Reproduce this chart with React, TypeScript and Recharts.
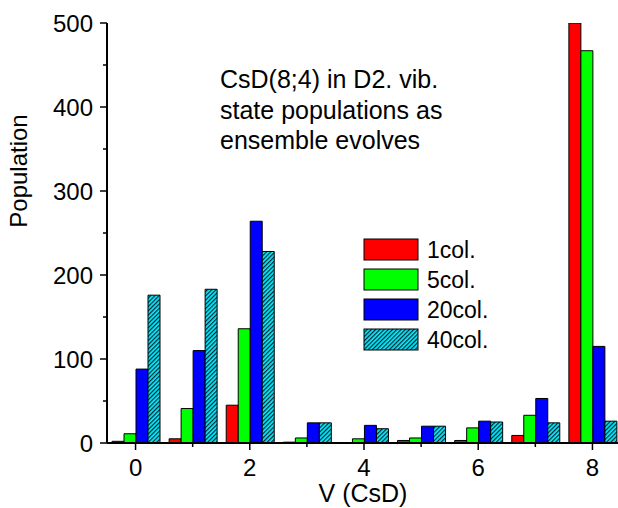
import React from 'react';
import { BarChart, Bar, XAxis, YAxis } from 'recharts';

const categories = [0, 1, 2, 3, 4, 5, 6, 7, 8];
const col1 = [2, 5, 45, 1, 0, 3, 3, 9, 500];
const col5 = [11, 41, 136, 6, 5, 6, 18, 33, 467];
const col20 = [88, 110, 264, 24, 21, 20, 26, 53, 115];
const col40 = [176, 183, 228, 24, 17, 20, 25, 24, 26];
const yTicks = [0, 50, 100, 150, 200, 250, 300, 350, 400, 450, 500];
const xLabelled = [0, 2, 4, 6, 8];
const seriesNames = ['1col.', '5col.', '20col.', '40col.'];
const seriesKeys = ['c1', 'c5', 'c20', 'c40'];
const seriesFills = ['#ff0000', '#00ff00', '#0000ff', 'url(#hatch)'];
const annotation = ['CsD(8;4) in D2. vib.', 'state populations as', 'ensemble evolves'];

const data = categories.map((v, i) => ({
  v,
  c1: col1[i],
  c5: col5[i],
  c20: col20[i],
  c40: col40[i],
}));

const FONT = '"Liberation Sans", Arial, Helvetica, sans-serif';

const YTick = (props: any) => {
  const { x, y, payload } = props;
  const major = payload.value % 100 === 0;
  return (
    <g>
      <line x1={x - (major ? 7 : 4)} y1={y} x2={x} y2={y} stroke="#000" strokeWidth={1.5} />
      {major && (
        <text x={x - 14} y={y + 8.5} textAnchor="end" fontSize={24} fontFamily={FONT} fill="#000">
          {payload.value}
        </text>
      )}
    </g>
  );
};

const XTick = (props: any) => {
  const { x, y, payload } = props;
  const major = xLabelled.includes(payload.value);
  return (
    <g>
      <line x1={x} y1={y} x2={x} y2={y + (major ? 7 : 4)} stroke="#000" strokeWidth={1.5} />
      {major && (
        <text x={x} y={y + 33} textAnchor="middle" fontSize={24} fontFamily={FONT} fill="#000">
          {payload.value}
        </text>
      )}
    </g>
  );
};

export default function App() {
  return (
    <div style={{ position: 'fixed', left: 0, top: 0, width: 618, height: 508, overflow: 'hidden', background: '#fff' }}>
      <svg width={0} height={0} style={{ position: 'absolute' }}>
        <defs>
          <pattern id="hatch" patternUnits="userSpaceOnUse" width={3} height={3} patternTransform="rotate(45)">
            <rect width={3} height={3} fill="#00f0ff" />
            <line x1={0.6} y1={0} x2={0.6} y2={3} stroke="#0a2030" strokeWidth={1.2} />
          </pattern>
        </defs>
      </svg>
      <BarChart
        width={621}
        height={508}
        data={data}
        margin={{ top: 23, right: 0, left: 0, bottom: 0 }}
        barCategoryGap={5}
        barGap={0}
      >
        <XAxis
          dataKey="v"
          type="category"
          interval={0}
          height={65}
          tickSize={0}
          tickMargin={0}
          tickLine={false}
          axisLine={{ stroke: '#000', strokeWidth: 2 }}
          tick={<XTick />}
        />
        <YAxis
          type="number"
          domain={[0, 500]}
          ticks={yTicks}
          interval={0}
          width={107}
          tickSize={0}
          tickMargin={0}
          tickLine={false}
          allowDataOverflow
          axisLine={{ stroke: '#000', strokeWidth: 2 }}
          tick={<YTick />}
        />
        {seriesKeys.map((k, i) => (
          <Bar
            key={k}
            dataKey={k}
            name={seriesNames[i]}
            fill={seriesFills[i]}
            stroke="#000"
            strokeWidth={1}
            isAnimationActive={false}
          />
        ))}
      </BarChart>
      <svg
        width={618}
        height={508}
        style={{ position: 'absolute', left: 0, top: 0, pointerEvents: 'none' }}
        fontFamily={FONT}
      >
        {annotation.map((line, i) => (
          <text key={i} x={220} y={88 + i * 30.5} fontSize={25} fill="#000">
            {line}
          </text>
        ))}
        {seriesNames.map((n, i) => (
          <g key={n}>
            <rect x={364} y={239 + i * 30} width={54} height={21} fill={seriesFills[i]} stroke="#000" strokeWidth={1} />
            <text x={427} y={258 + i * 30} fontSize={23} fill="#000">
              {n}
            </text>
          </g>
        ))}
        <text x={27} y={171} fontSize={24} textAnchor="middle" transform="rotate(-90, 27, 171)" fill="#000">
          Population
        </text>
        <text x={363} y={502} fontSize={25} textAnchor="middle" fill="#000">
          V (CsD)
        </text>
      </svg>
    </div>
  );
}
